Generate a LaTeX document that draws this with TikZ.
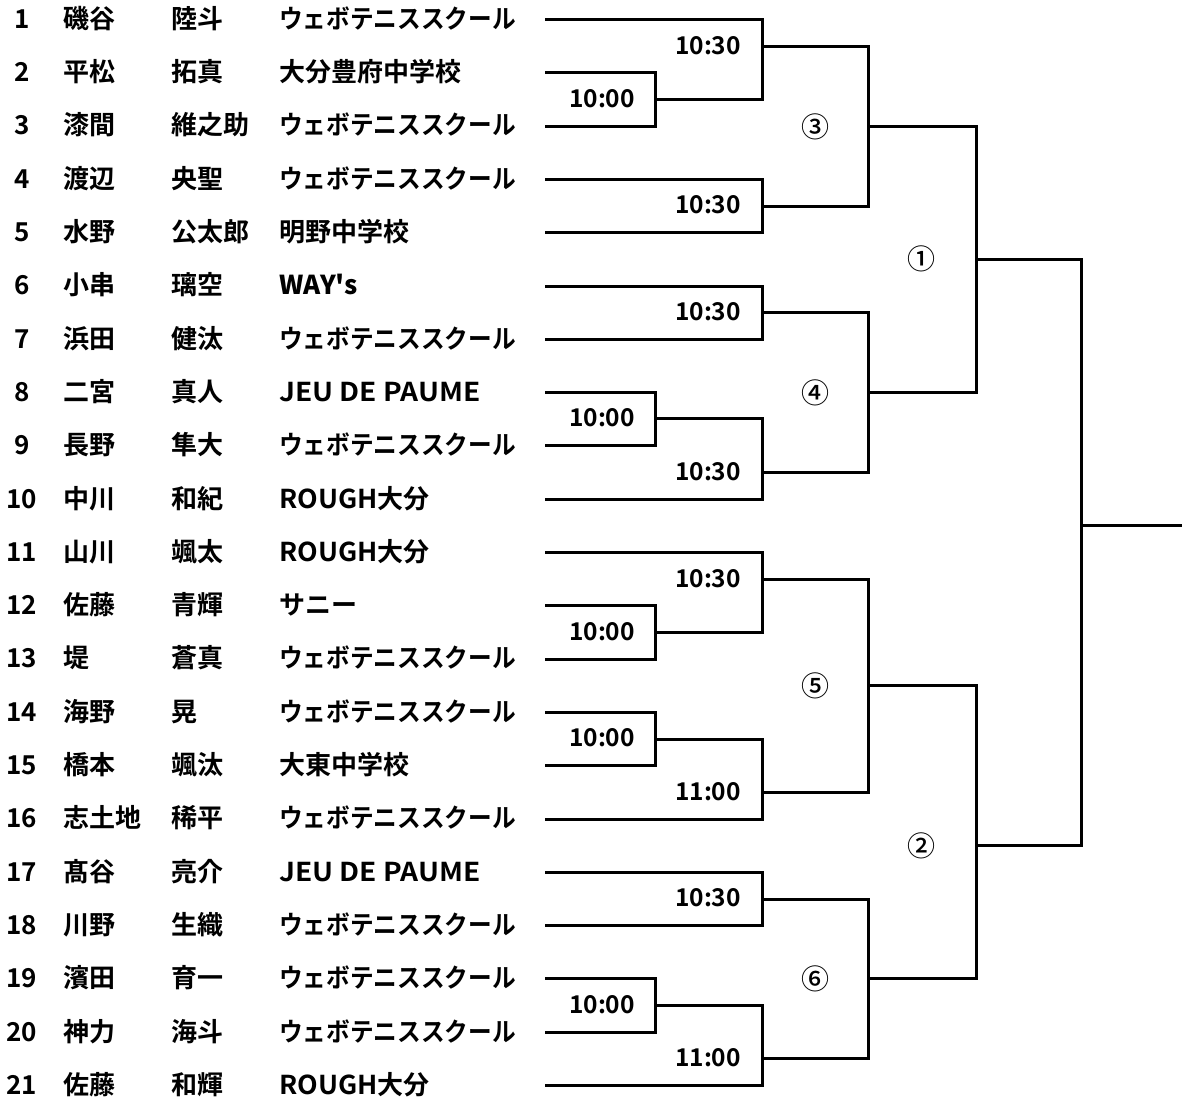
\documentclass[tikz,border=0pt]{standalone}
\usepackage{fontspec}
\usepackage{graphicx}
\setmainfont{Noto Sans CJK JP}[BoldFont={Noto Sans CJK JP Bold}]
\newfontfamily\circfont{Noto Sans CJK JP Medium}
\newfontfamily\plainb{Noto Sans CJK JP Bold}
\newcommand{\wbo}{\scalebox{0.91}[1]{ウェボテニススクール}}
\newcommand{\jdp}{\scalebox{1.08}[1]{JEU DE PAUME}}
\newcommand{\ways}{{\plainb WAY's}}
\newcommand{\rgh}{\scalebox{1.03}[1]{ROUGH}大分}
\begin{document}
\begin{tikzpicture}[x=1pt,y=-1pt,
  txt/.style={inner sep=0pt,anchor=west,text height=0.88em,text depth=0.12em,font=\bfseries\fontsize{26}{30}\selectfont},
  numtxt/.style={txt,anchor=center},
  timelbl/.style={inner sep=0pt,anchor=center,font=\bfseries\fontsize{24.5}{28}\selectfont},
  circ/.style={inner sep=0pt,anchor=center,font=\circfont\fontsize{28}{32}\selectfont},
  br/.style={line width=3pt,line join=miter,line cap=rect}]
\useasboundingbox (0,0) rectangle (1182,1101);
% players
\foreach \i/\sur/\giv/\club in {
 1/磯谷/陸斗/\wbo, 2/平松/拓真/大分豊府中学校, 3/漆間/維之助/\wbo,
 4/渡辺/央聖/\wbo, 5/水野/公太郎/明野中学校, 6/小串/璃空/\ways,
 7/浜田/健汰/\wbo, 8/二宮/真人/\jdp, 9/長野/隼大/\wbo,
 10/中川/和紀/\rgh, 11/山川/颯太/\rgh, 12/佐藤/青輝/サニー,
 13/堤/蒼真/\wbo, 14/海野/晃/\wbo, 15/橋本/颯汰/大東中学校,
 16/志土地/稀平/\wbo, 17/髙谷/亮介/\jdp, 18/川野/生織/\wbo,
 19/濱田/育一/\wbo, 20/神力/海斗/\wbo, 21/佐藤/和輝/\rgh}{
  \pgfmathsetmacro\yy{19.5+(\i-1)*53.3}
  \node[numtxt] (n\i) at (22,\yy+5) {\i};
  \node[txt] (f\i) at (63,\yy+5) {\sur};
  \node[txt] (g\i) at (171,\yy+5) {\giv};
  \node[txt] (c\i) at (279,\yy+5) {\club};
  \coordinate (s\i) at (546,\yy);
}
% junctions
\coordinate (A1) at (655,99.4);
\coordinate (A2) at (762,46.2);
\coordinate (A3) at (762,206);
\coordinate (A4) at (868,126.1);
\coordinate (B1) at (762,312.6);
\coordinate (B2) at (655,418.7);
\coordinate (B3) at (762,472.5);
\coordinate (B4) at (868,392.6);
\coordinate (Q1) at (976,259.3);
\coordinate (C1) at (655,632.4);
\coordinate (C2) at (762,579.2);
\coordinate (C3) at (655,739);
\coordinate (C4) at (762,792.4);
\coordinate (C5) at (868,685.8);
\coordinate (D1) at (762,899);
\coordinate (D2) at (655,1005.5);
\coordinate (D3) at (762,1058.8);
\coordinate (D4) at (868,978.9);
\coordinate (Q2) at (976,845.7);
\coordinate (F) at (1081,525.9);
\coordinate (E) at (1182,525.9);
% brackets
\draw[br] (s2) -| (A1) |- (s3);
\draw[br] (s1) -| (A2) |- (A1);
\draw[br] (s4) -| (A3) |- (s5);
\draw[br] (A2) -| (A4) |- (A3);
\draw[br] (s6) -| (B1) |- (s7);
\draw[br] (s8) -| (B2) |- (s9);
\draw[br] (B2) -| (B3) |- (s10);
\draw[br] (B1) -| (B4) |- (B3);
\draw[br] (A4) -| (Q1) |- (B4);
\draw[br] (s12) -| (C1) |- (s13);
\draw[br] (s11) -| (C2) |- (C1);
\draw[br] (s14) -| (C3) |- (s15);
\draw[br] (C3) -| (C4) |- (s16);
\draw[br] (C2) -| (C5) |- (C4);
\draw[br] (s17) -| (D1) |- (s18);
\draw[br] (s19) -| (D2) |- (s20);
\draw[br] (D2) -| (D3) |- (s21);
\draw[br] (D1) -| (D4) |- (D3);
\draw[br] (C5) -| (Q2) |- (D4);
\draw[br] (Q1) -| (F) |- (Q2);
\draw[br] (F) -- (E);
% time labels
\node[timelbl] (tA1) at (602,98.4) {10:00};
\node[timelbl] (tA2) at (708,45.2) {10:30};
\node[timelbl] (tA3) at (708,205) {10:30};
\node[timelbl] (tB1) at (708,311.6) {10:30};
\node[timelbl] (tB2) at (602,417.7) {10:00};
\node[timelbl] (tB3) at (708,471.5) {10:30};
\node[timelbl] (tC1) at (602,631.4) {10:00};
\node[timelbl] (tC2) at (708,578.2) {10:30};
\node[timelbl] (tC3) at (602,738) {10:00};
\node[timelbl] (tC4) at (708,791.4) {11:00};
\node[timelbl] (tD1) at (708,898) {10:30};
\node[timelbl] (tD2) at (602,1004.5) {10:00};
\node[timelbl] (tD3) at (708,1057.8) {11:00};
% round labels
\node[circ] (r3) at (815,127) {③};
\node[circ] (r4) at (815,392.6) {④};
\node[circ] (r1) at (921,259.3) {①};
\node[circ] (r5) at (815,685.8) {⑤};
\node[circ] (r6) at (815,978.9) {⑥};
\node[circ] (r2) at (921,845.7) {②};
\end{tikzpicture}
\end{document}
